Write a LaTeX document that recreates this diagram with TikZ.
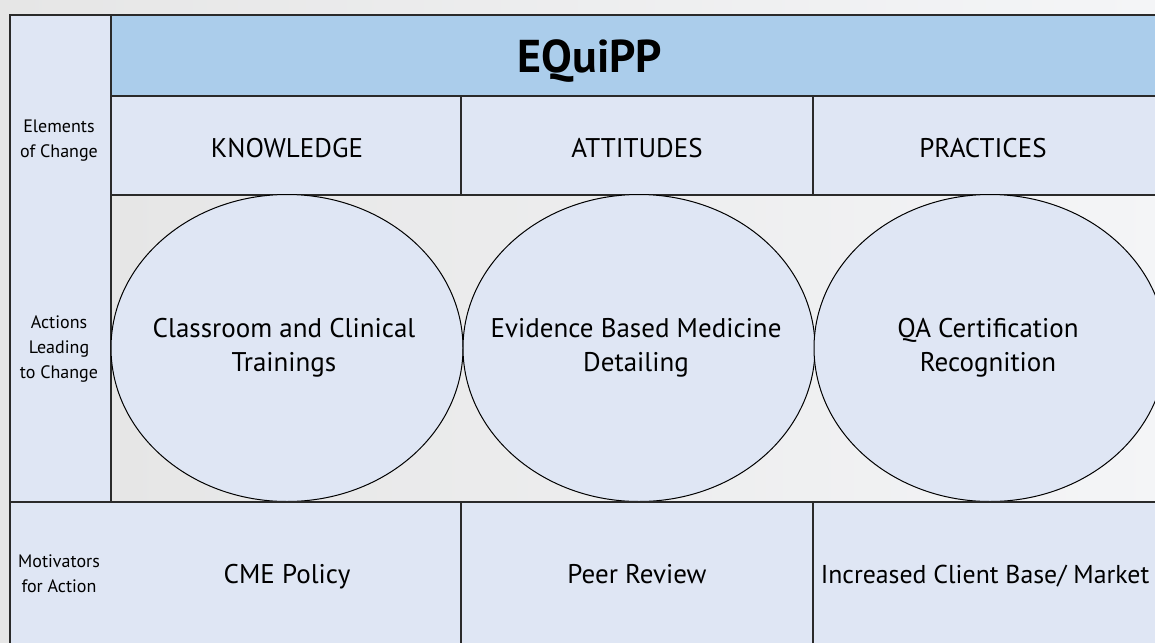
\documentclass[tikz,border=0pt]{standalone}
\usepackage{fontspec}
\setmainfont{PT Sans}
\usetikzlibrary{shapes.geometric}
\definecolor{hdr}{HTML}{ABCDEB}
\definecolor{cellc}{HTML}{DFE6F4}
\definecolor{bgl}{HTML}{E6E6E6}
\definecolor{bgr}{HTML}{F4F5F7}
\definecolor{edge}{HTML}{2A2A2A}
\tikzset{
  cell/.style={draw=edge, line width=1.3pt, fill=cellc, rectangle, inner sep=0pt, align=center},
  hdrcell/.style={cell, fill=hdr},
  bigtxt/.style={font=\fontsize{27}{33}\selectfont, anchor=base},
  smalltxt/.style={font=\fontsize{18}{25}\selectfont, align=center},
  oval/.style={ellipse, draw=black, line width=1pt, fill=cellc, inner sep=0pt,
    minimum width=352pt, minimum height=307pt},
  ovaltxt/.style={align=center, font=\fontsize{27}{34}\selectfont},
}
\begin{document}
\begin{tikzpicture}[x=1pt,y=-1pt]
\useasboundingbox (0,0) rectangle (1155,642);
\clip (0,0) rectangle (1155,642);
% page background
\shade[left color=bgl, right color=bgr] (0,0) rectangle (1155,642);
% left column (rows 1-3)
\node[cell, minimum width=101pt, minimum height=487pt] (leftcol) at (60.5,258.5) {};
% header
\node[hdrcell, minimum width=1060pt, minimum height=81pt] (hdr) at (641,55.5) {};
\node[font=\bfseries\fontsize{46}{50}\selectfont, anchor=base] (title) at (590,72) {EQuiPP};
% row 2
\node[cell, minimum width=350pt, minimum height=99pt] (know) at (286,145.5) {};
\node[cell, minimum width=352pt, minimum height=99pt] (att) at (637,145.5) {};
\node[cell, minimum width=352pt, minimum height=99pt] (prac) at (989,145.5) {};
\node[bigtxt] (knowt) at (287,157) {KNOWLEDGE};
\node[bigtxt] (attt) at (637,157) {ATTITUDES};
\node[bigtxt] (pract) at (983,157) {PRACTICES};
% row 3 band
\node[draw=edge, line width=1.3pt, left color=bgl, right color=bgr, rectangle, inner sep=0pt,
  minimum width=1060pt, minimum height=307pt] (band) at (641,348.5) {};
\node[oval] (o1) at (287,348) {};
\node[oval] (o2) at (639,348) {};
\node[oval] (o3) at (990,348) {};
\node[ovaltxt] (o1t) at (284,348) {Classroom and Clinical\\Trainings};
\node[ovaltxt] (o2t) at (636,348) {Evidence Based Medicine\\Detailing};
\node[ovaltxt] (o3t) at (988,348) {QA Certification\\Recognition};
% row 4
\node[cell, minimum width=451pt, minimum height=160pt] (m1) at (235.5,582) {};
\node[cell, minimum width=352pt, minimum height=160pt] (m2) at (637,582) {};
\node[cell, minimum width=352pt, minimum height=160pt] (m3) at (989,582) {};
\node[bigtxt] (t1) at (287,583) {CME Policy};
\node[bigtxt] (t2) at (637,583) {Peer Review};
\node[bigtxt, font=\fontsize{25.8}{32}\selectfont] (t3) at (985,583) {Increased Client Base/ Market};
% left labels
\node[smalltxt] (l1) at (59,141) {Elements\\of Change};
\node[smalltxt] (l2) at (59,349) {Actions\\Leading\\to Change};
\node[smalltxt] (l3) at (59,574) {Motivators\\for Action};
\end{tikzpicture}
\end{document}
